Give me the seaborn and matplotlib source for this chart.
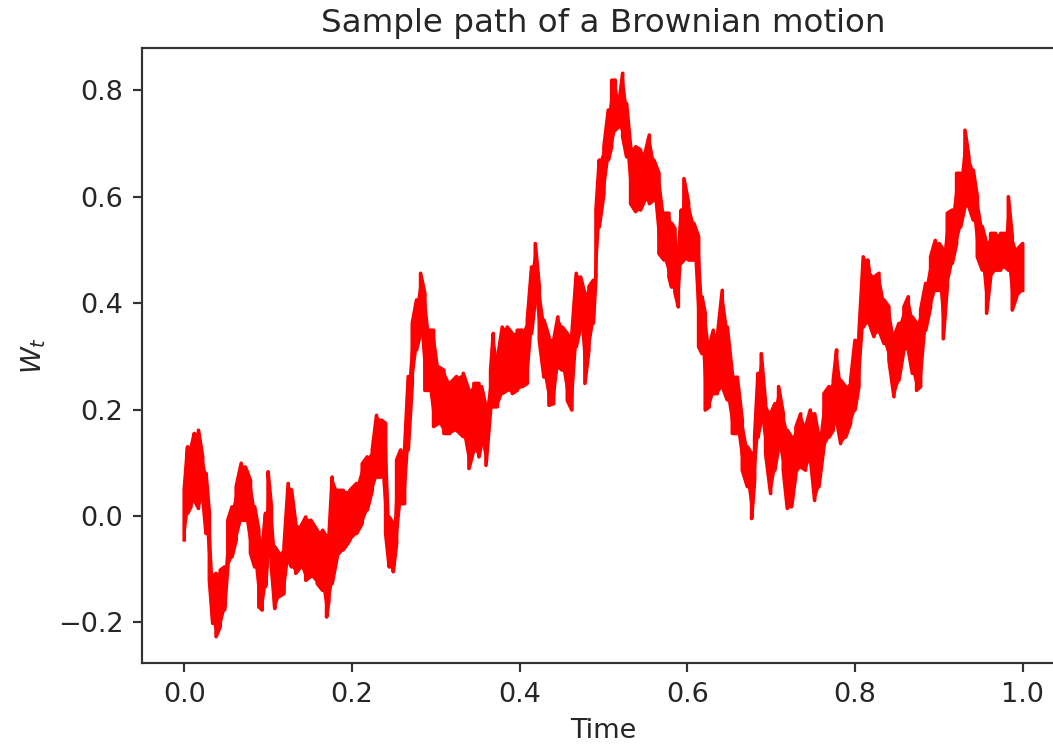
import matplotlib
matplotlib.use("Agg")
import matplotlib.pyplot as plt
import pandas as pd
import seaborn as sns

time_pts = [0.000, 0.004, 0.008, 0.012, 0.017, 0.022, 0.026, 0.030, 0.034, 0.038,
            0.043, 0.048, 0.052, 0.057, 0.062, 0.068, 0.073, 0.079, 0.084, 0.089,
            0.093, 0.097, 0.100, 0.104, 0.108, 0.113, 0.119, 0.124, 0.128, 0.133,
            0.139, 0.145, 0.151,
            0.1586, 0.165, 0.1698, 0.1726, 0.1765, 0.1825, 0.1897, 0.1976, 0.2056, 0.2123,
            0.2183, 0.2243, 0.2294, 0.2354, 0.2402, 0.2445, 0.2493, 0.2533, 0.2581, 0.2628,
            0.2672, 0.272, 0.2771, 0.2819, 0.287, 0.2918, 0.2974, 0.3034, 0.3097, 0.3169,
            0.3248, 0.3328, 0.3396, 0.3455, 0.3515,
            0.3547, 0.3599, 0.3654, 0.3686, 0.3734, 0.3793, 0.3853, 0.3913, 0.3972, 0.4032,
            0.4092, 0.4143, 0.4187, 0.4235, 0.429, 0.435, 0.4406, 0.4457, 0.4509, 0.4569,
            0.4624, 0.4676, 0.4728, 0.4779, 0.4827, 0.4879, 0.4911, 0.495, 0.5006, 0.5058,
            0.5098, 0.5141, 0.5185, 0.5229, 0.5276, 0.5324, 0.5384, 0.5443, 0.5495, 0.5547,
            0.5602, 0.5662, 0.5722, 0.5781, 0.5813, 0.5853, 0.5893,
            0.5928, 0.596, 0.6016, 0.6079, 0.6135, 0.6175, 0.6214, 0.6262, 0.631, 0.6358,
            0.6417, 0.6477, 0.6537, 0.6596, 0.6656, 0.6716, 0.6767, 0.6803, 0.6843, 0.6882,
            0.6934, 0.6994, 0.7045, 0.7089, 0.7145, 0.7193, 0.7244, 0.7296, 0.7352, 0.7411,
            0.7467, 0.7519, 0.757, 0.763, 0.769, 0.7741, 0.7781, 0.7829, 0.7888, 0.7948,
            0.800, 0.8047, 0.8099, 0.8151,
            0.817, 0.8226, 0.8286, 0.8346, 0.8405, 0.8465, 0.8524, 0.8584, 0.8636, 0.8684,
            0.8735, 0.8783, 0.8843, 0.8902, 0.8958, 0.9006, 0.9053, 0.9101, 0.9161, 0.9212,
            0.926, 0.9312, 0.9359, 0.9411, 0.9459, 0.9518, 0.957, 0.9618, 0.9678, 0.9737,
            0.9789, 0.9829, 0.9876, 0.9928, 1.000]

upper = [0.049, 0.130, 0.127, 0.155, 0.161, 0.111, 0.080, 0.005, -0.114, -0.108,
         -0.102, -0.096, -0.008, 0.017, 0.055, 0.099, 0.092, 0.067, 0.017, -0.027,
         -0.058, 0.005, 0.083, 0.017, -0.058, -0.070, -0.058, 0.061, 0.049, -0.014,
         -0.020, -0.002, -0.008,
         -0.027, -0.027, -0.039, -0.039, 0.073, 0.048, 0.048, 0.048, 0.061, 0.098,
         0.111, 0.124, 0.189, 0.180, 0.174, -0.002, -0.014, 0.105, 0.124, 0.124,
         0.262, 0.362, 0.406, 0.456, 0.418, 0.349, 0.349, 0.280, 0.274, 0.249,
         0.262, 0.268, 0.236, 0.249, 0.249,
         0.243, 0.205, 0.274, 0.343, 0.293, 0.355, 0.355, 0.343, 0.349, 0.349,
         0.368, 0.468, 0.512, 0.431, 0.368, 0.337, 0.330, 0.374, 0.355, 0.343,
         0.343, 0.456, 0.449, 0.418, 0.431, 0.443, 0.575, 0.669, 0.694, 0.763,
         0.819, 0.819, 0.775, 0.832, 0.775, 0.694, 0.694, 0.688, 0.681, 0.716,
         0.669, 0.644, 0.569, 0.569, 0.550, 0.540, 0.490,
         0.575, 0.634, 0.588, 0.550, 0.525, 0.412, 0.381, 0.318, 0.349, 0.337,
         0.424, 0.355, 0.268, 0.261, 0.180, 0.130, 0.117, 0.148, 0.268, 0.305,
         0.211, 0.192, 0.211, 0.243, 0.192, 0.161, 0.148, 0.167, 0.192, 0.167,
         0.199, 0.192, 0.148, 0.230, 0.243, 0.255, 0.312, 0.255, 0.243, 0.255,
         0.330, 0.343, 0.487, 0.481,
         0.462, 0.449, 0.456, 0.406, 0.393, 0.337, 0.362, 0.393, 0.412, 0.374,
         0.362, 0.387, 0.437, 0.487, 0.518, 0.512, 0.500, 0.569, 0.575, 0.644,
         0.644, 0.725, 0.675, 0.650, 0.600, 0.544, 0.512, 0.531, 0.531, 0.531,
         0.531, 0.600, 0.525, 0.500, 0.512]

lower = [-0.045, 0.005, 0.017, 0.030, 0.014, 0.036, -0.033, -0.121, -0.202, -0.227,
         -0.208, -0.177, -0.096, -0.077, -0.045, -0.008, -0.008, -0.070, -0.096, -0.171,
         -0.177, -0.133, -0.070, -0.096, -0.174, -0.152, -0.146, -0.083, -0.096, -0.108,
         -0.096, -0.121, -0.114,
         -0.127, -0.140, -0.190, -0.159, -0.127, -0.077, -0.064, -0.046, -0.033, -0.014,
         0.011, 0.048, 0.073, 0.073, -0.033, -0.096, -0.105, -0.052, 0.023, 0.023,
         0.124, 0.249, 0.312, 0.343, 0.236, 0.236, 0.168, 0.174, 0.155, 0.155,
         0.161, 0.149, 0.089, 0.124, 0.111,
         0.136, 0.095, 0.199, 0.205, 0.205, 0.230, 0.236, 0.230, 0.236, 0.243,
         0.249, 0.343, 0.406, 0.330, 0.261, 0.208, 0.211, 0.280, 0.274, 0.217,
         0.199, 0.318, 0.355, 0.249, 0.312, 0.362, 0.449, 0.543, 0.606, 0.669,
         0.694, 0.725, 0.732, 0.713, 0.675, 0.587, 0.572, 0.575, 0.594, 0.587,
         0.594, 0.493, 0.481, 0.449, 0.430, 0.420, 0.393,
         0.475, 0.481, 0.481, 0.481, 0.318, 0.305, 0.199, 0.205, 0.230, 0.230,
         0.243, 0.218, 0.155, 0.155, 0.086, 0.055, -0.005, 0.067, 0.148, 0.180,
         0.117, 0.042, 0.086, 0.130, 0.086, 0.014, 0.017, 0.080, 0.092, 0.086,
         0.111, 0.029, 0.055, 0.130, 0.148, 0.161, 0.180, 0.136, 0.148, 0.174,
         0.199, 0.243, 0.355, 0.368,
         0.362, 0.337, 0.349, 0.324, 0.293, 0.224, 0.255, 0.312, 0.312, 0.268,
         0.236, 0.243, 0.349, 0.393, 0.424, 0.424, 0.333, 0.431, 0.475, 0.512,
         0.543, 0.581, 0.581, 0.556, 0.487, 0.462, 0.381, 0.449, 0.462, 0.462,
         0.468, 0.462, 0.387, 0.412, 0.424]

title_text = "Sample path of a Brownian motion"
x_label = "Time"
y_label = "$W_t$"
x_ticks = [0.0, 0.2, 0.4, 0.6, 0.8, 1.0]
y_ticks = [-0.2, 0.0, 0.2, 0.4, 0.6, 0.8]

# Build a vertical-stroke path through the band edges
xs, ys = [], []
for i, (t, h, l) in enumerate(zip(time_pts, upper, lower)):
    xs += [t, t]
    ys += [l, h] if i % 2 == 0 else [h, l]
df = pd.DataFrame({"Time": xs, "W": ys})

S = 1.95
plt.rcParams.update({
    "font.family": "DejaVu Sans",
    "font.size": 10 * S,
    "axes.titlesize": 12 * S,
    "axes.labelsize": 10 * S,
    "xtick.labelsize": 10 * S,
    "ytick.labelsize": 10 * S,
    "axes.linewidth": 0.8 * S,
    "xtick.major.size": 3.5 * S,
    "ytick.major.size": 3.5 * S,
    "xtick.major.width": 0.8 * S,
    "ytick.major.width": 0.8 * S,
    "xtick.major.pad": 3.5 * S,
    "ytick.major.pad": 3.5 * S,
    "axes.titlepad": 6 * S,
    "axes.labelpad": 3.6 * S,
    "axes.edgecolor": "#333333",
    "text.color": "#262626",
    "axes.labelcolor": "#262626",
    "xtick.color": "#333333",
    "ytick.color": "#333333",
    "xtick.labelcolor": "#262626",
    "ytick.labelcolor": "#262626",
})

fig = plt.figure(figsize=(10.53, 7.47), dpi=100)
ax = fig.add_axes([142.3 / 1053, (747 - 663) / 747, 922.3 / 1053, 614.7 / 747])

ax.fill_between(time_pts, lower, upper, color="red", linewidth=0)
sns.lineplot(data=df, x="Time", y="W", sort=False, estimator=None,
             color="red", linewidth=2.6, ax=ax)

ax.set_xlim(-0.05, 1.05)
ax.set_ylim(-0.2765, 0.879)
ax.set_xticks(x_ticks)
ax.set_yticks(y_ticks)
ax.set_title(title_text)
ax.set_xlabel(x_label)
ax.set_ylabel(y_label)

fig.savefig("out.png", dpi=100)
